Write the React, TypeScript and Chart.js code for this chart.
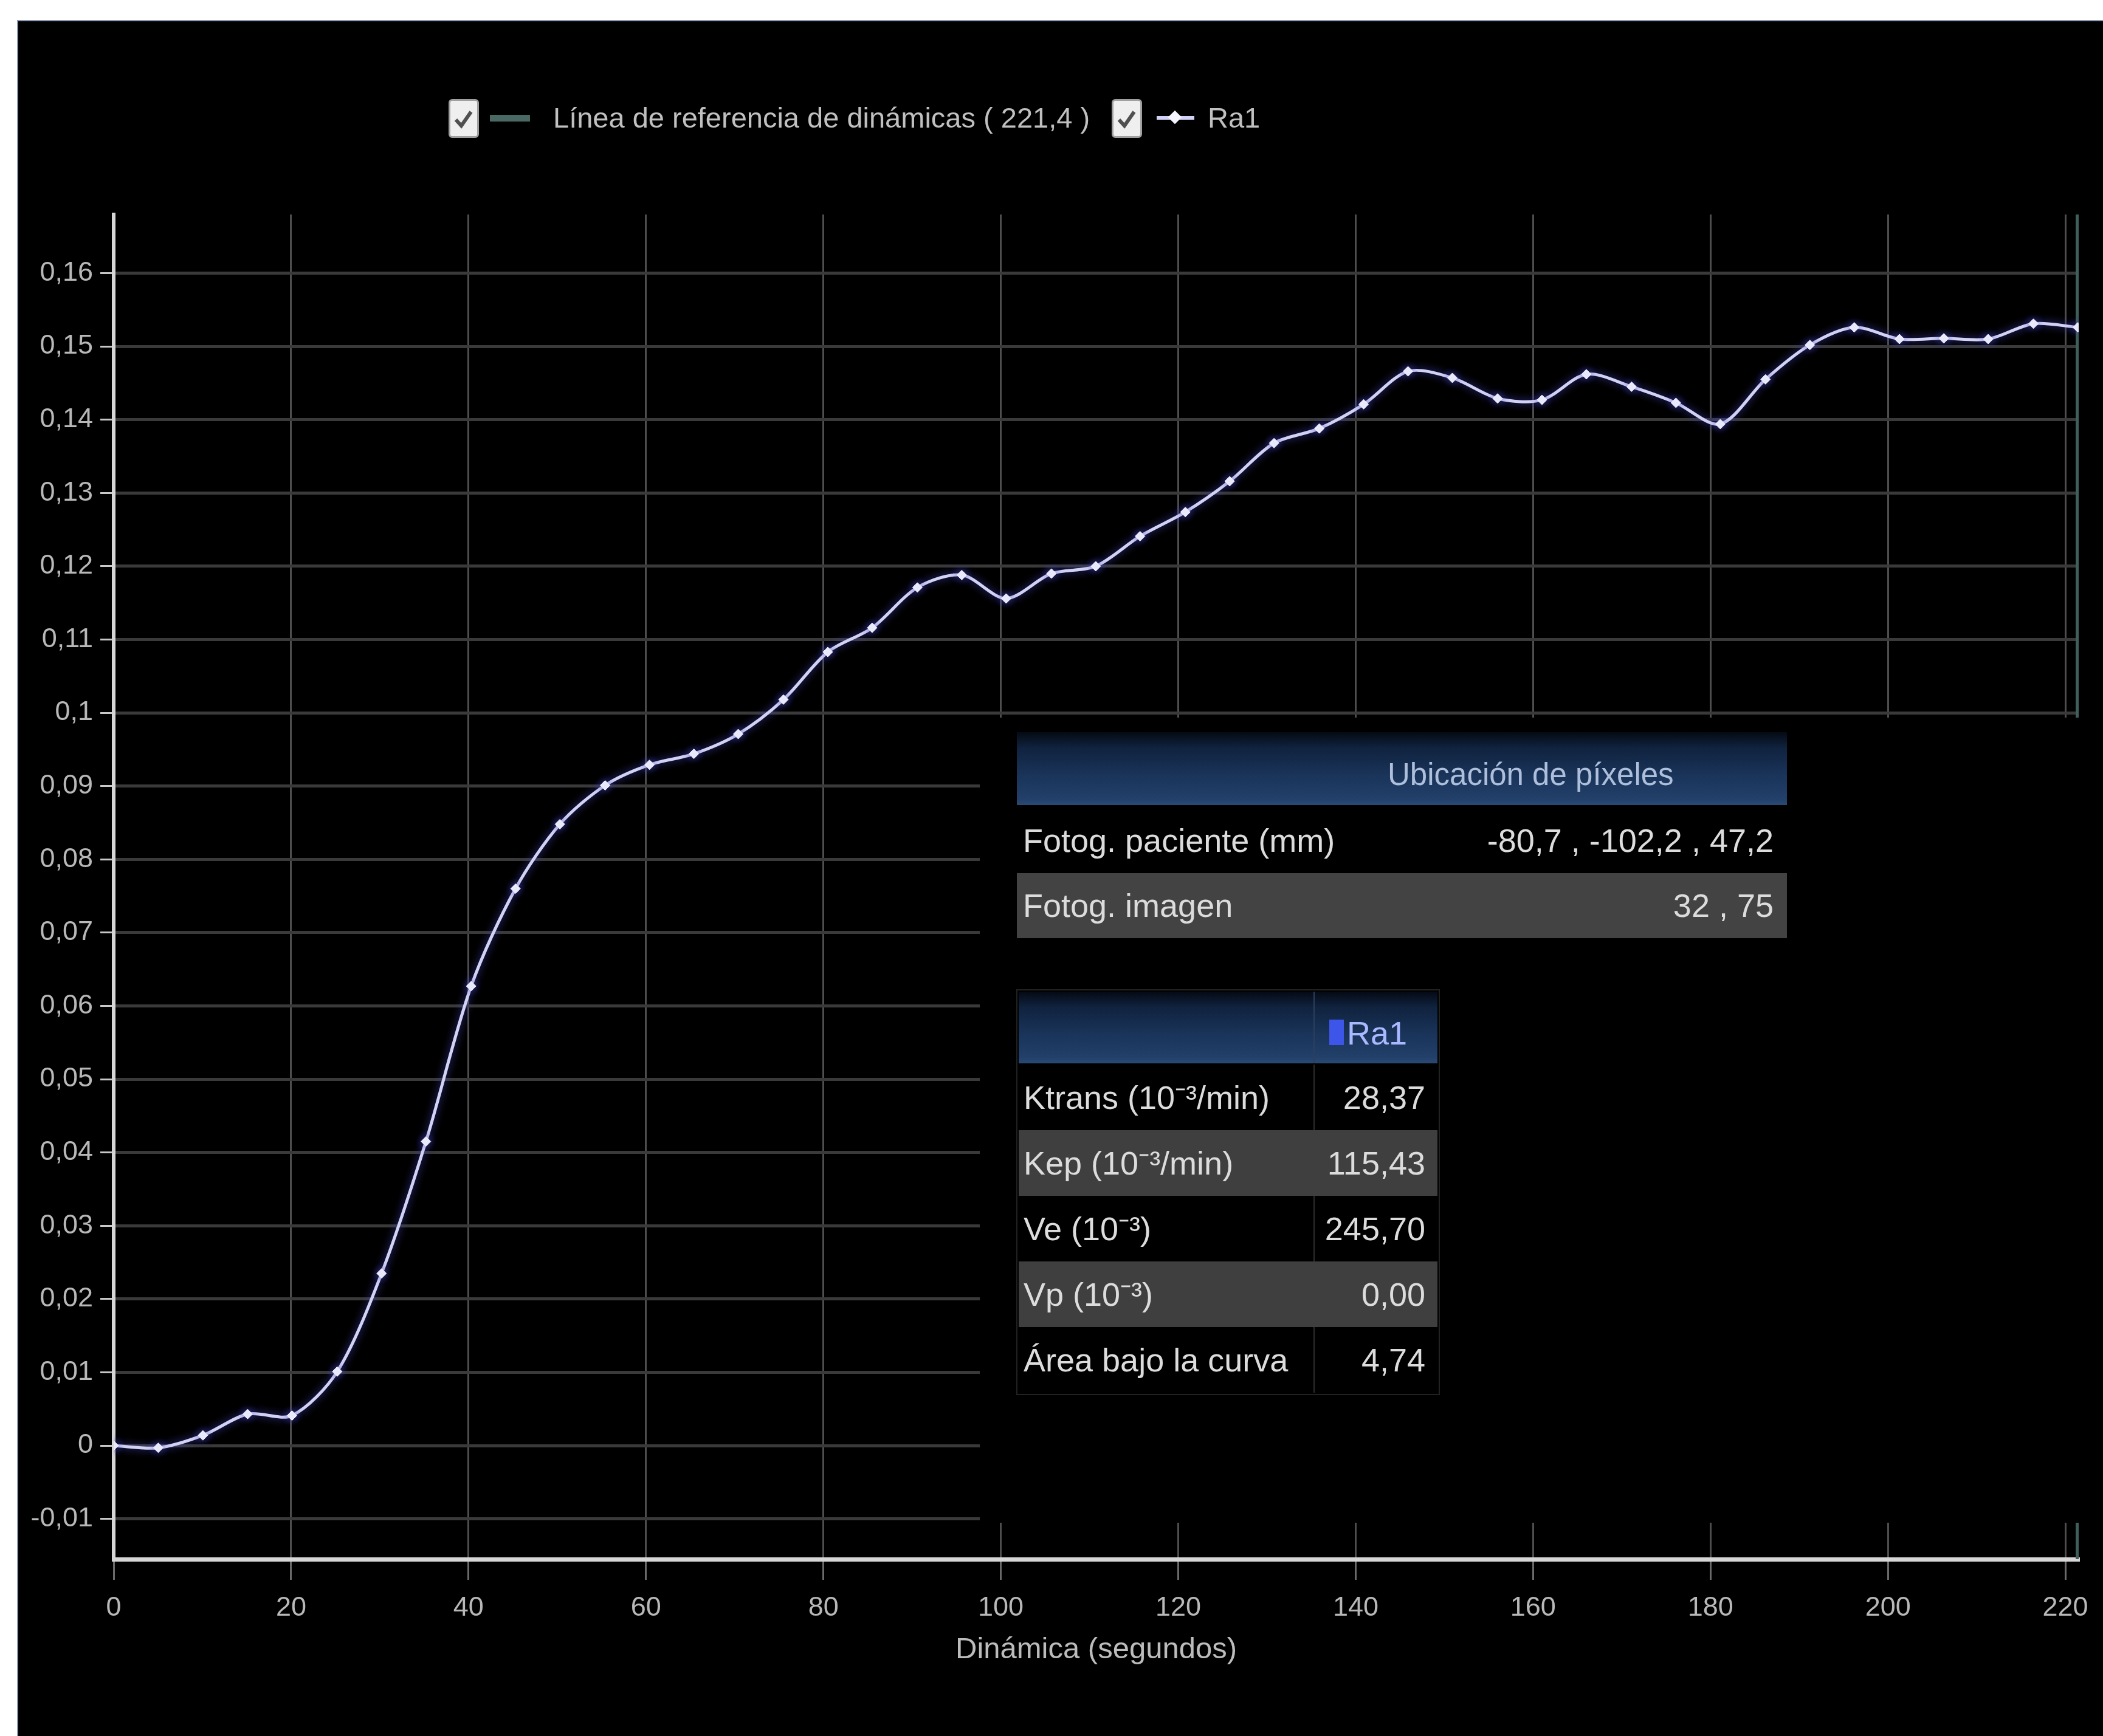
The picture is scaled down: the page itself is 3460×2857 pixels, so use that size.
import React, { useEffect, useRef } from 'react';
import { Chart, registerables } from 'chart.js';

Chart.register(...registerables);

// ---------- data ----------
const timeSeconds = [0, 5.03, 10.06, 15.1, 20.1, 25.2, 30.2, 35.2, 40.3, 45.3, 50.3, 55.4, 60.4, 65.4, 70.4, 75.5, 80.5, 85.5, 90.6, 95.6, 100.6, 105.7, 110.7, 115.7, 120.8, 125.8, 130.8, 135.9, 140.9, 145.9, 150.9, 156.0, 161.0, 166.0, 171.1, 176.1, 181.1, 186.2, 191.2, 196.2, 201.3, 206.3, 211.3, 216.4, 221.4];
const ra1Values = [0.0, -0.0003, 0.0014, 0.0043, 0.0041, 0.0101, 0.0235, 0.0415, 0.0627, 0.076, 0.0848, 0.0901, 0.0929, 0.0944, 0.0971, 0.1018, 0.1083, 0.1116, 0.1171, 0.1188, 0.1156, 0.119, 0.12, 0.1241, 0.1274, 0.1316, 0.1368, 0.1388, 0.1421, 0.1466, 0.1457, 0.1429, 0.1427, 0.1462, 0.1445, 0.1423, 0.1394, 0.1455, 0.1502, 0.1526, 0.151, 0.1511, 0.151, 0.1531, 0.1526];
const referenceLineX = 221.4;
const referenceLegend = 'Línea de referencia de dinámicas ( 221,4 )';
const seriesName = 'Ra1';
const xTitle = 'Dinámica (segundos)';

const xTickValues = [0, 20, 40, 60, 80, 100, 120, 140, 160, 180, 200, 220];
const xTickLabels = ['0', '20', '40', '60', '80', '100', '120', '140', '160', '180', '200', '220'];
const yTickValues = [-0.01, 0, 0.01, 0.02, 0.03, 0.04, 0.05, 0.06, 0.07, 0.08, 0.09, 0.1, 0.11, 0.12, 0.13, 0.14, 0.15, 0.16];
const yTickLabels = ['-0,01', '0', '0,01', '0,02', '0,03', '0,04', '0,05', '0,06', '0,07', '0,08', '0,09', '0,1', '0,11', '0,12', '0,13', '0,14', '0,15', '0,16'];
const xMin = 0;
const xMax = 221.5;
const yMin = -0.0155;
const yMax = 0.168;

const pixelTableTitle = 'Ubicación de píxeles';
const pixelLabels = ['Fotog. paciente (mm)', 'Fotog. imagen'];
const pixelValues = ['-80,7 , -102,2 , 47,2', '32 , 75'];
const paramLabels = ['Ktrans (10⁻³/min)', 'Kep (10⁻³/min)', 'Ve (10⁻³)', 'Vp (10⁻³)', 'Área bajo la curva'];
const paramValues = ['28,37', '115,43', '245,70', '0,00', '4,74'];

const FONT = "'Liberation Sans', Arial, sans-serif";

const glowPlugin = {
  id: 'glow',
  beforeDatasetDraw(chart: any, args: any) {
    if (args.index === 0) {
      const c = chart.ctx;
      c.save();
      c.shadowColor = 'rgba(70,70,200,0.85)';
      c.shadowBlur = 14;
    }
  },
  afterDatasetDraw(chart: any, args: any) {
    if (args.index === 0) chart.ctx.restore();
  },
};

function CheckBox({ left }: { left: number }) {
  return (
    <div
      style={{
        position: 'absolute',
        left,
        top: 163,
        width: 50,
        height: 64,
        background: '#efefef',
        borderRadius: 6,
        boxSizing: 'border-box',
        border: '3px solid #a0a0a0',
      }}
    >
      <svg width="44" height="58" viewBox="0 0 44 58" style={{ display: 'block' }}>
        <path d="M9 31 L18 41 L34 18" stroke="#505050" strokeWidth="6" fill="none" />
      </svg>
    </div>
  );
}

export default function App() {
  const canvasRef = useRef<HTMLCanvasElement>(null);

  useEffect(() => {
    document.body.style.margin = '0';
    const canvas = canvasRef.current!;
    const chart = new Chart(canvas, {
      type: 'scatter',
      data: {
        datasets: [
          {
            label: seriesName,
            data: timeSeconds.map((t, i) => ({ x: t, y: ra1Values[i] })),
            showLine: true,
            borderColor: '#d2d2f6',
            borderWidth: 5,
            tension: 0.3,
            pointStyle: 'rectRot',
            pointRadius: 8,
            pointBackgroundColor: '#f4f4ff',
            pointBorderColor: '#f4f4ff',
            pointBorderWidth: 1,
          } as any,
          {
            label: referenceLegend,
            data: [
              { x: referenceLineX, y: yMin },
              { x: referenceLineX, y: yMax },
            ],
            showLine: true,
            borderColor: '#3f605a',
            borderWidth: 7,
            pointRadius: 0,
          } as any,
        ],
      },
      options: {
        animation: false,
        responsive: false,
        maintainAspectRatio: false,
        devicePixelRatio: 1,
        layout: { padding: { left: 0, top: 353, right: 40, bottom: 0 } },
        plugins: {
          legend: { display: false },
          tooltip: { enabled: false },
        },
        scales: {
          x: {
            type: 'linear',
            min: xMin,
            max: xMax,
            afterBuildTicks: (s: any) => {
              s.ticks = xTickValues.map((v) => ({ value: v }));
            },
            afterFit: (s: any) => {
              s.height = 291;
            },
            ticks: {
              autoSkip: false,
              maxRotation: 0,
              color: '#b8b8b8',
              font: { family: FONT, size: 45 },
              padding: 20,
              callback: (_v: any, i: number) => xTickLabels[i],
            },
            grid: {
              color: '#4e4e4e',
              lineWidth: 3,
              tickLength: 34,
              tickColor: '#6a6a6a',
              tickWidth: 3,
            },
            border: { color: '#d6d6d6', width: 7 },
            title: {
              display: true,
              text: xTitle,
              color: '#bcbcbc',
              font: { family: FONT, size: 49 },
              padding: { top: 0, bottom: 112 },
            },
          },
          y: {
            type: 'linear',
            min: yMin,
            max: yMax,
            afterBuildTicks: (s: any) => {
              s.ticks = yTickValues.map((v) => ({ value: v }));
            },
            afterFit: (s: any) => {
              s.width = 187;
            },
            ticks: {
              autoSkip: false,
              color: '#b8b8b8',
              font: { family: FONT, size: 45 },
              padding: 12,
              callback: (_v: any, i: number) => yTickLabels[i],
            },
            grid: {
              color: '#3a3a3a',
              lineWidth: 5,
              tickLength: 22,
              tickColor: '#c8c8c8',
              tickWidth: 3,
            },
            border: { color: '#d6d6d6', width: 6 },
          },
        },
      } as any,
      plugins: [glowPlugin],
    });
    return () => chart.destroy();
  }, []);

  const headerGradient = 'linear-gradient(to bottom, #050a14 0%, #10233f 22%, #1a345a 60%, #22406a 92%, #2a4a74 100%)';

  return (
    <div style={{ position: 'relative', width: 3460, height: 2857, background: '#ffffff', overflow: 'hidden', fontFamily: FONT }}>
      <div
        style={{
          position: 'absolute',
          left: 28,
          top: 33,
          right: 0,
          bottom: 0,
          background: '#000',
          borderTop: '2px solid #8b9bb4',
          borderLeft: '2px solid #8b9bb4',
        }}
      />
      <canvas ref={canvasRef} width={3460} height={2857} style={{ position: 'absolute', left: 0, top: 0 }} />

      {/* legend */}
      <CheckBox left={738} />
      <div style={{ position: 'absolute', left: 806, top: 189, width: 66, height: 11, background: '#4a6963' }} />
      <div style={{ position: 'absolute', left: 910, top: 164, height: 60, lineHeight: '60px', fontSize: 47, color: '#c0c0c0', whiteSpace: 'nowrap' }}>
        {referenceLegend}
      </div>
      <CheckBox left={1829} />
      <div style={{ position: 'absolute', left: 1903, top: 191, width: 62, height: 6, background: '#d2d2f6' }} />
      <div style={{ position: 'absolute', left: 1925, top: 185, width: 16, height: 16, background: '#f4f4ff', transform: 'rotate(45deg)' }} />
      <div style={{ position: 'absolute', left: 1987, top: 164, height: 60, lineHeight: '60px', fontSize: 47, color: '#c0c0c0', whiteSpace: 'nowrap' }}>
        {seriesName}
      </div>

      {/* overlay panel */}
      <div style={{ position: 'absolute', left: 1612, top: 1181, width: 1821, height: 1325, background: '#000' }} />

      {/* pixel location table */}
      <div style={{ position: 'absolute', left: 1673, top: 1205, width: 1267, height: 120, background: headerGradient }}>
        <div style={{ position: 'absolute', left: 610, top: 34, lineHeight: '72px', fontSize: 51, color: '#aebfdb', whiteSpace: 'nowrap' }}>
          {pixelTableTitle}
        </div>
      </div>
      {pixelLabels.map((lab, i) => (
        <div
          key={lab}
          style={{
            position: 'absolute',
            left: 1673,
            top: 1330 + i * 107,
            width: 1267,
            height: 107,
            background: i % 2 === 1 ? '#434343' : '#000',
            fontSize: 54,
            color: '#dcdcdc',
            lineHeight: '107px',
            whiteSpace: 'nowrap',
          }}
        >
          <span style={{ position: 'absolute', left: 10 }}>{lab}</span>
          <span style={{ position: 'absolute', right: 22 }}>{pixelValues[i]}</span>
        </div>
      ))}

      {/* parameter table */}
      <div style={{ position: 'absolute', left: 1672, top: 1628, width: 697, height: 668, border: '2px solid #222', boxSizing: 'border-box' }} />
      <div style={{ position: 'absolute', left: 1676, top: 1632, width: 689, height: 118, background: headerGradient }}>
        <div style={{ position: 'absolute', left: 485, top: 0, width: 2, height: 118, background: '#2b3f5c' }} />
        <div style={{ position: 'absolute', left: 511, top: 46, width: 24, height: 42, background: '#3d55e8' }} />
        <div style={{ position: 'absolute', left: 540, top: 32, lineHeight: '72px', fontSize: 54, color: '#a9b8ff', whiteSpace: 'nowrap' }}>
          {seriesName}
        </div>
      </div>
      {paramLabels.map((lab, i) => (
        <div
          key={lab}
          style={{
            position: 'absolute',
            left: 1676,
            top: 1752 + i * 108,
            width: 689,
            height: 108,
            background: i % 2 === 1 ? '#3f3f3f' : '#000',
            fontSize: 54,
            color: '#dcdcdc',
            lineHeight: '108px',
            whiteSpace: 'nowrap',
          }}
        >
          <span style={{ position: 'absolute', left: 8 }}>{lab}</span>
          {i % 2 === 0 && <div style={{ position: 'absolute', left: 485, top: 0, width: 2, height: 108, background: '#2c2c2c' }} />}
          <span style={{ position: 'absolute', right: 20 }}>{paramValues[i]}</span>
        </div>
      ))}
    </div>
  );
}
